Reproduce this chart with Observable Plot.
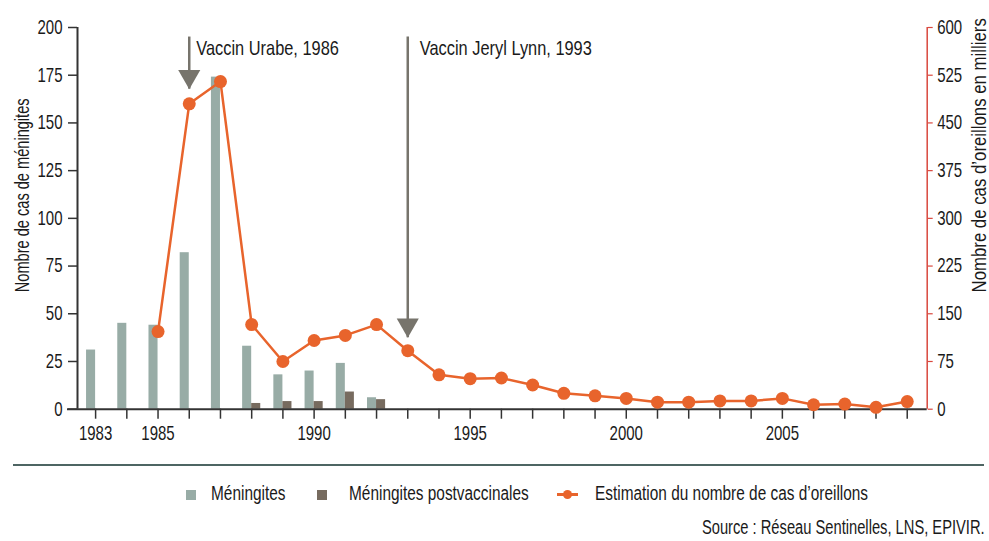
<!DOCTYPE html>
<html>
<head>
<meta charset="utf-8">
<script src="https://cdn.jsdelivr.net/npm/d3@7"></script>
<script src="https://cdn.jsdelivr.net/npm/@observablehq/plot@0.6"></script>
<style>
  html, body { margin: 0; padding: 0; background: #fff; }
  body { width: 989px; height: 541px; overflow: hidden; position: relative;
         font-family: "Liberation Sans", Arial, sans-serif; color: #1a1a1a; }
  #chart { position: absolute; left: 0; top: 0; }
  .sep { position: absolute; left: 13px; top: 464px; width: 971px; height: 0; border-top: 2.5px solid #4e6563; }
  .lg { position: absolute; font-size: 20px; line-height: 22px; top: 482px; white-space: nowrap;
        transform: scaleX(0.77); transform-origin: 0 50%; }
  .sw { position: absolute; width: 10px; height: 10px; top: 490px; }
  .ln { position: absolute; top: 493px; height: 2.5px; width: 21px; background: #e8642c; }
  .ld { position: absolute; top: 489.5px; width: 9px; height: 9px; border-radius: 50%; background: #e8642c; }
  .src { position: absolute; right: 4px; top: 516px; font-size: 20px; line-height: 22px; white-space: nowrap;
         transform: scaleX(0.735); transform-origin: 100% 50%; }
</style>
</head>
<body>
<div id="chart"></div>
<div class="sep"></div>
<div class="sw" style="left:186px;background:#98aca6"></div>
<div class="lg" style="left:211px">Méningites</div>
<div class="sw" style="left:317px;background:#776b5f"></div>
<div class="lg" style="left:349px">Méningites postvaccinales</div>
<div class="ln" style="left:557px"></div>
<div class="ld" style="left:563px"></div>
<div class="lg" style="left:595px">Estimation du nombre de cas d’oreillons</div>
<div class="src">Source : Réseau Sentinelles, LNS, EPIVIR.</div>
<script>
// ---- data ----
const meningYears = [1983, 1984, 1985, 1986, 1987, 1988, 1989, 1990, 1991, 1992];
const meningites  = [31, 45, 44, 82, 174, 33, 18, 20, 24, 6];
const postYears   = [1988, 1989, 1990, 1991, 1992];
const postvacc    = [3, 4, 4, 9, 5];
const mumpsYears  = [1985, 1986, 1987, 1988, 1989, 1990, 1991, 1992, 1993, 1994, 1995, 1996, 1997,
                     1998, 1999, 2000, 2001, 2002, 2003, 2004, 2005, 2006, 2007, 2008, 2009];
const mumps       = [122, 480, 515, 133, 75, 108, 116, 133, 92, 54, 48, 49, 38,
                     25, 21, 17, 11, 11, 13, 13, 17, 7, 8, 3, 12]; // milliers
const allYears    = d3.range(1983, 2010);
const labelYears  = [1983, 1985, 1990, 1995, 2000, 2005];
const leftTicks   = [0, 25, 50, 75, 100, 125, 150, 175, 200];
const rightTicks  = [0, 75, 150, 225, 300, 375, 450, 525, 600];
const annYears    = [1986, 1993];
const annLabels   = ["Vaccin Urabe, 1986", "Vaccin Jeryl Lynn, 1993"];
const annTips     = [167.7, 37.5];   // arrow tip, in méningites units
const annTop      = 195;
const leftTitle   = "Nombre de cas de méningites";
const rightTitle  = "Nombre de cas d’oreillons en milliers";

const meningData = meningYears.map((year, i) => ({year, v: meningites[i]}));
const postData   = postYears.map((year, i) => ({year, v: postvacc[i]}));
const mumpsData  = mumpsYears.map((year, i) => ({year, v: mumps[i]}));
const annData    = annYears.map((year, i) => ({year, label: annLabels[i], tip: annTips[i]}));

const ratio = 3; // right axis (600) / left axis (200)
const xDomain = [1982.42, 2009.64];
const barW = 0.29;
const FONT = '"Liberation Sans", Arial, sans-serif';
const red = "#d9473d", orange = "#e8642c", gray = "#77746c", axisCol = "#333", ink = "#1a1a1a";

const chart = Plot.plot({
  width: 989, height: 460,
  marginLeft: 77, marginRight: 62.3, marginTop: 27, marginBottom: 51.3,
  x: {domain: xDomain, axis: null},
  y: {domain: [0, 200], axis: null},
  style: {fontFamily: FONT, fontSize: "20px", color: ink, background: "transparent", overflow: "visible"},
  marks: [
    Plot.rectY(meningData, {x1: d => d.year - barW, x2: d => d.year, y: "v", fill: "#98aca6"}),
    Plot.rectY(postData, {x1: d => d.year, x2: d => d.year + barW, y: "v", fill: "#776b5f"}),
    Plot.axisX(allYears, {tickSize: 10, tickPadding: 7, stroke: axisCol, strokeWidth: 1.5, fill: ink, fontSize: 20,
      tickFormat: d => labelYears.includes(d) ? String(d) : "", label: null}),
    Plot.axisY(leftTicks, {anchor: "left", tickSize: 9, tickPadding: 6, stroke: axisCol, strokeWidth: 1.5, fill: ink,
      fontSize: 20, tickFormat: d => String(d), label: null}),
    Plot.axisY(rightTicks.map(v => v / ratio), {anchor: "right", tickSize: 5, tickPadding: 5, stroke: red,
      strokeWidth: 1.2, fill: ink, fontSize: 20, tickFormat: v => String(Math.round(v * ratio)), label: null}),
    Plot.ruleX([xDomain[0]], {y1: 0, y2: 200, stroke: axisCol, strokeWidth: 2}),
    Plot.ruleX([xDomain[1]], {y1: 0, y2: 200, stroke: red, strokeWidth: 1.5}),
    Plot.ruleY([0], {stroke: axisCol, strokeWidth: 2, insetLeft: -10}),
    Plot.ruleX(annData, {x: "year", y1: "tip", y2: annTop, stroke: gray, strokeWidth: 2.5}),
    Plot.dot(annData, {x: "year", y: "tip", symbol: "triangle", r: 8.2, rotate: 180, dy: -12.7, fill: gray, stroke: "none"}),
    Plot.text([annData[0]], {x: "year", y: 189, text: "label", textAnchor: "start", dx: 7, fontSize: 20, fill: ink}),
    Plot.text([annData[1]], {x: "year", y: 189, text: "label", textAnchor: "start", dx: 12, fontSize: 20, fill: ink}),
    Plot.line(mumpsData, {x: "year", y: d => d.v / ratio, stroke: orange, strokeWidth: 2.5}),
    Plot.dot(mumpsData, {x: "year", y: d => d.v / ratio, r: 6.5, fill: orange, stroke: "none"}),
    Plot.text([leftTitle], {text: d => d, frameAnchor: "left", textAnchor: "middle", dx: -55, dy: -23,
      rotate: -90, fontSize: 20, fill: ink}),
    Plot.text([rightTitle], {text: d => d, frameAnchor: "right", textAnchor: "middle", dx: 52, dy: -63,
      rotate: -90, fontSize: 20, fill: ink})
  ]
});

// condensed lettering: squeeze every text along its own baseline
chart.querySelectorAll("text").forEach(t => {
  const s = t.textContent;
  const sx = annLabels.includes(s) ? 0.82 : s === rightTitle ? 0.84 : s === leftTitle ? 0.73 : 0.75;
  let tr = t.getAttribute("transform");
  if (!tr) {
    const x = +t.getAttribute("x") || 0, y = +t.getAttribute("y") || 0;
    t.removeAttribute("x"); t.removeAttribute("y");
    tr = `translate(${x},${y})`;
  }
  t.setAttribute("transform", tr + ` scale(${sx},1)`);
});
document.getElementById("chart").appendChild(chart);
</script>
</body>
</html>
